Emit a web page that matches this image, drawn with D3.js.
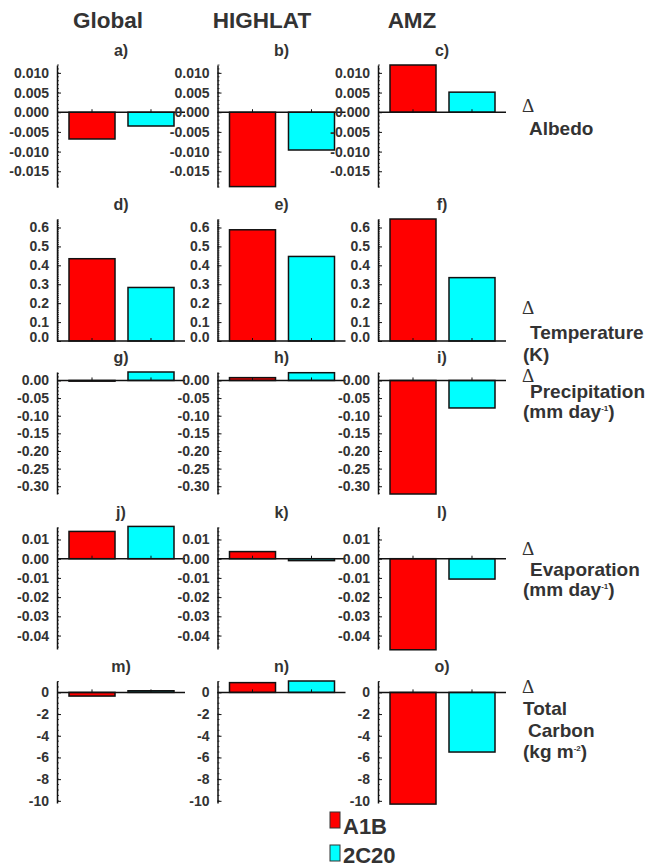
<!DOCTYPE html>
<html>
<head>
<meta charset="utf-8">
<script src="https://cdn.jsdelivr.net/npm/d3@7"></script>
<style>
  body { margin: 0; background: #fff; }
  text { font-family: "Liberation Sans", Helvetica, Arial, sans-serif; font-weight: bold; fill: #333; }
</style>
</head>
<body>
<div id="chart"></div>
<script>
// regions (columns) and scenarios (series)
const regions = ["Global", "HIGHLAT", "AMZ"];
const scenarios = ["A1B", "2C20"];
const scenarioColors = ["#ff0000", "#00ffff"];
const panelLetters = ["a)", "b)", "c)", "d)", "e)", "f)", "g)", "h)", "i)", "j)", "k)", "l)", "m)", "n)", "o)"];

// values per region: Global, HIGHLAT, AMZ
const albedoA1B = [-0.0068, -0.0189, 0.0120];
const albedo2C20 = [-0.0035, -0.0096, 0.0051];
const tempA1B = [0.435, 0.588, 0.645];
const temp2C20 = [0.283, 0.447, 0.335];
const precipA1B = [-0.002, 0.008, -0.322];
const precip2C20 = [0.024, 0.022, -0.078];
const evapA1B = [0.0142, 0.0037, -0.0474];
const evap2C20 = [0.0168, -0.0010, -0.0106];
const carbonA1B = [-0.34, 0.9, -10.3];
const carbon2C20 = [0.15, 1.05, -5.5];

// y domains and tick labels for each row
const albedoDomain = [-0.019, 0.012];
const albedoTicks = [-0.015, -0.010, -0.005, 0.000, 0.005, 0.010];
const tempDomain = [0, 0.645];
const tempTicks = [0.0, 0.1, 0.2, 0.3, 0.4, 0.5, 0.6];
const precipDomain = [-0.322, 0.024];
const precipTicks = [-0.30, -0.25, -0.20, -0.15, -0.10, -0.05, 0.00];
const evapDomain = [-0.047, 0.0165];
const evapTicks = [-0.04, -0.03, -0.02, -0.01, 0.00, 0.01];
const carbonDomain = [-10.2, 1.05];
const carbonTicks = [-10, -8, -6, -4, -2, 0];

const rows = [
  { a: albedoA1B, b: albedo2C20, dom: albedoDomain, ticks: albedoTicks, fmt: ".3f", minor: 0.001,
    label: [["Albedo", 6, 23]] },
  { a: tempA1B, b: temp2C20, dom: tempDomain, ticks: tempTicks, fmt: ".1f", minor: 0.01,
    label: [["Temperature", 7, 25], ["(K)", 0, 47]] },
  { a: precipA1B, b: precip2C20, dom: precipDomain, ticks: precipTicks, fmt: ".2f", minor: 0.01,
    label: [["Precipitation", 7, 16], ["(mm day", 0, 36, "-1", ")"]] },
  { a: evapA1B, b: evap2C20, dom: evapDomain, ticks: evapTicks, fmt: ".2f", minor: 0.002,
    label: [["Evaporation", 7, 21], ["(mm day", 0, 41, "-1", ")"]] },
  { a: carbonA1B, b: carbon2C20, dom: carbonDomain, ticks: carbonTicks, fmt: "d", minor: 0.5,
    label: [["Total", 0, 22], ["Carbon", 5, 44], ["(kg m", 0, 65, "-2", ")"]] }
];

const locale = d3.formatLocale({ decimal: ".", thousands: ",", grouping: [3], currency: ["", ""], minus: "-" });

const width = 647, height = 868;
const svg = d3.select("#chart").append("svg")
  .attr("width", width).attr("height", height);

const rowTop = [65, 219, 372, 527, 681];
const rowH = 122;
const colX = [57, 217.5, 378];
const plotW = 128;
const titleX = [108, 262, 412];
const deltaY = [112, 314, 382, 555, 693];

// column titles
regions.forEach(function (r, i) {
  svg.append("text")
    .attr("x", titleX[i]).attr("y", 28)
    .attr("text-anchor", "middle")
    .style("font-size", "22.5px")
    .text(r);
});

const xBand = d3.scaleBand().domain(scenarios).range([12, 117]).paddingInner(0.22);

rows.forEach(function (row, ri) {
  let y = d3.scaleLinear().domain(row.dom).range([rowTop[ri] + rowH, rowTop[ri]]);
  let minorTicks = d3.range(Math.ceil(row.dom[0] / row.minor), Math.floor(row.dom[1] / row.minor) + 1)
    .map(k => k * row.minor);

  regions.forEach(function (reg, ci) {
    let g = svg.append("g").attr("transform", "translate(" + colX[ci] + ",0)");
    let vals = [row.a[ci], row.b[ci]];

    // bars
    g.selectAll("rect.bar")
      .data(vals)
      .join("rect")
      .attr("class", "bar")
      .attr("x", (d, i) => xBand(scenarios[i]))
      .attr("width", xBand.bandwidth())
      .attr("y", d => y(Math.max(0, d)))
      .attr("height", d => Math.abs(y(d) - y(0)))
      .attr("fill", (d, i) => scenarioColors[i])
      .attr("stroke", "#111")
      .attr("stroke-width", 1.5);

    // zero line
    g.append("line")
      .attr("x1", 0).attr("x2", plotW)
      .attr("y1", y(0)).attr("y2", y(0))
      .attr("stroke", "#111").attr("stroke-width", 1.5);

    // small ticks at bar centres
    scenarios.forEach(function (s) {
      g.append("line")
        .attr("x1", xBand(s) + xBand.bandwidth() / 2).attr("x2", xBand(s) + xBand.bandwidth() / 2)
        .attr("y1", y(0)).attr("y2", y(0) - 3)
        .attr("stroke", "#111").attr("stroke-width", 1);
    });

    // minor ticks
    g.selectAll("line.minor")
      .data(minorTicks)
      .join("line")
      .attr("class", "minor")
      .attr("x1", 0).attr("x2", 2)
      .attr("y1", d => y(d)).attr("y2", d => y(d))
      .attr("stroke", "#222").attr("stroke-width", 0.8);

    // y axis
    let axis = d3.axisLeft(y).tickValues(row.ticks).tickFormat(locale.format(row.fmt))
      .tickSizeInner(-4).tickSizeOuter(0).tickPadding(8);
    let ag = g.append("g").call(axis);
    ag.select(".domain").attr("stroke", "#111").attr("stroke-width", 1.5);
    ag.selectAll(".tick line").attr("stroke", "#111");
    ag.selectAll(".tick text")
      .style("font-size", "14px")
      .style("font-family", "Liberation Sans, Helvetica, Arial, sans-serif")
      .style("font-weight", "bold")
      .attr("fill", "#444");
    if (ri === 1) {
      ag.selectAll(".tick text").filter(d => d === 0).attr("dy", "0");
    }

    // panel letter
    svg.append("text")
      .attr("x", colX[ci] + plotW / 2).attr("y", rowTop[ri] - 9)
      .attr("text-anchor", "middle")
      .style("font-size", "16px")
      .text(panelLetters[ri * 3 + ci]);
  });

  // row label on right
  let ly = deltaY[ri];
  svg.append("text")
    .attr("x", 522).attr("y", ly)
    .style("font-family", "Liberation Serif, Times, serif")
    .style("font-weight", "normal")
    .style("font-size", "19px")
    .attr("fill", "#222")
    .text("\u0394");
  row.label.forEach(function (l) {
    let t = svg.append("text")
      .attr("x", 523 + l[1]).attr("y", ly + l[2])
      .style("font-size", "19px");
    t.append("tspan").text(l[0]);
    if (l[3]) {
      t.append("tspan").attr("dy", -7).style("font-size", "8px").text(l[3]);
      t.append("tspan").attr("dy", 7).text(l[4]);
    }
  });
});

// legend
scenarios.forEach(function (s, i) {
  svg.append("rect")
    .attr("x", 330).attr("y", 812 + i * 33)
    .attr("width", 10).attr("height", 16)
    .attr("fill", scenarioColors[i])
    .attr("stroke", "#333").attr("stroke-width", 1);
  svg.append("text")
    .attr("x", 343).attr("y", 834 + i * 29)
    .style("font-size", "22px")
    .text(s);
});
</script>
</body>
</html>
